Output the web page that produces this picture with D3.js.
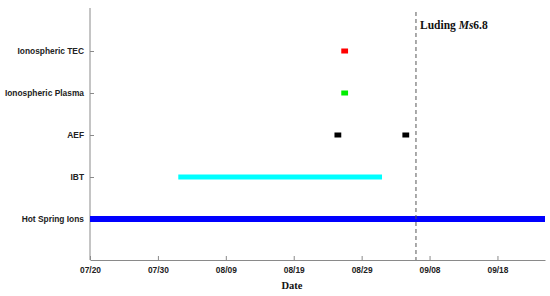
<!DOCTYPE html>
<html>
<head>
<meta charset="utf-8">
<script src="https://cdn.jsdelivr.net/npm/d3@7"></script>
<style>
  html, body { margin: 0; padding: 0; background: #fff; }
  svg { display: block; }
</style>
</head>
<body>
<div id="chart"></div>
<script>
// ---- data ----
const categories = ["Ionospheric TEC", "Ionospheric Plasma", "AEF", "IBT", "Hot Spring Ions"];
const segCategory = ["Ionospheric TEC", "Ionospheric Plasma", "AEF", "AEF", "IBT", "Hot Spring Ions"];
const segStart = ["2022-08-26", "2022-08-26", "2022-08-25", "2022-09-04", "2022-08-02", "2022-07-20"];
const segEnd   = ["2022-08-27", "2022-08-27", "2022-08-26", "2022-09-05", "2022-09-01", "2022-09-25"];
const segColor = ["#ff0000", "#00ee00", "#000000", "#000000", "#00ffff", "#0000ff"];
const tickDates = ["2022-07-20", "2022-07-30", "2022-08-09", "2022-08-19", "2022-08-29", "2022-09-08", "2022-09-18"];
const domainDates = ["2022-07-20", "2022-09-25"];
const eventDate = "2022-09-06";
const eventLabel = ["Luding ", "Ms", "6.8"];
const xTitle = "Date";

// ---- layout ----
const W = 550, H = 296;
const margin = { left: 90, right: 5, top: 8, bottom: 36 };
const parse = d3.timeParse("%Y-%m-%d");

const svg = d3.select("#chart").append("svg").attr("width", W).attr("height", H);

const x = d3.scaleTime()
  .domain(domainDates.map(parse))
  .range([margin.left, W - margin.right]);

const y = d3.scalePoint()
  .domain(categories)
  .range([51, 219]);

const axisColor = "#8a8a8a";
const textColor = "#222";

// x axis
const xAxis = d3.axisBottom(x)
  .tickValues(tickDates.map(parse))
  .tickFormat(d3.timeFormat("%m/%d"))
  .tickSizeInner(-4).tickSizeOuter(0).tickPadding(7);
const gx = svg.append("g").attr("transform", `translate(0,${H - margin.bottom})`).call(xAxis);
gx.select(".domain").attr("stroke", axisColor);
gx.selectAll(".tick line").attr("stroke", axisColor);
gx.selectAll(".tick text")
  .attr("fill", textColor)
  .style("font-family", "Liberation Sans, Arial, sans-serif")
  .style("font-weight", "bold")
  .style("font-size", "8.4px");

// y axis
const yAxis = d3.axisLeft(y).tickSizeInner(-4).tickSizeOuter(0).tickPadding(6);
const gy = svg.append("g").attr("transform", `translate(${margin.left},0)`).call(yAxis);
gy.select(".domain").attr("stroke", axisColor).attr("d", `M0,${margin.top}V${H - margin.bottom}`);
gy.selectAll(".tick line").attr("stroke", axisColor);
gy.selectAll(".tick text")
  .attr("fill", textColor)
  .style("font-family", "Liberation Sans, Arial, sans-serif")
  .style("font-weight", "bold")
  .style("font-size", "8.4px");

// segments
const segs = segCategory.map((c, i) => ({ c, s: parse(segStart[i]), e: parse(segEnd[i]), color: segColor[i] }));
svg.append("g").selectAll("rect").data(segs).join("rect")
  .attr("x", d => x(d.s))
  .attr("width", d => x(d.e) - x(d.s))
  .attr("y", d => y(d.c) - (d.c === "Hot Spring Ions" ? 3 : 2.5))
  .attr("height", d => d.c === "Hot Spring Ions" ? 6 : 5)
  .attr("fill", d => d.color);

// event line
const ex = x(parse(eventDate));
svg.append("line")
  .attr("x1", ex).attr("x2", ex)
  .attr("y1", 12).attr("y2", H - margin.bottom)
  .attr("stroke", "#555").attr("stroke-width", 1)
  .attr("stroke-dasharray", "4,3");

const lab = svg.append("text")
  .attr("x", ex + 4).attr("y", 28.5)
  .attr("fill", "#111")
  .style("font-family", "Liberation Serif, 'Times New Roman', serif")
  .style("font-weight", "bold")
  .style("font-size", "11.5px");
lab.append("tspan").text(eventLabel[0]);
lab.append("tspan").style("font-style", "italic").text(eventLabel[1]);
lab.append("tspan").text(eventLabel[2]);

// x title
svg.append("text")
  .attr("x", 292)
  .attr("y", 289)
  .attr("text-anchor", "middle")
  .attr("fill", "#111")
  .style("font-family", "Liberation Serif, 'Times New Roman', serif")
  .style("font-weight", "bold")
  .style("font-size", "10.5px")
  .text(xTitle);
</script>
</body>
</html>
